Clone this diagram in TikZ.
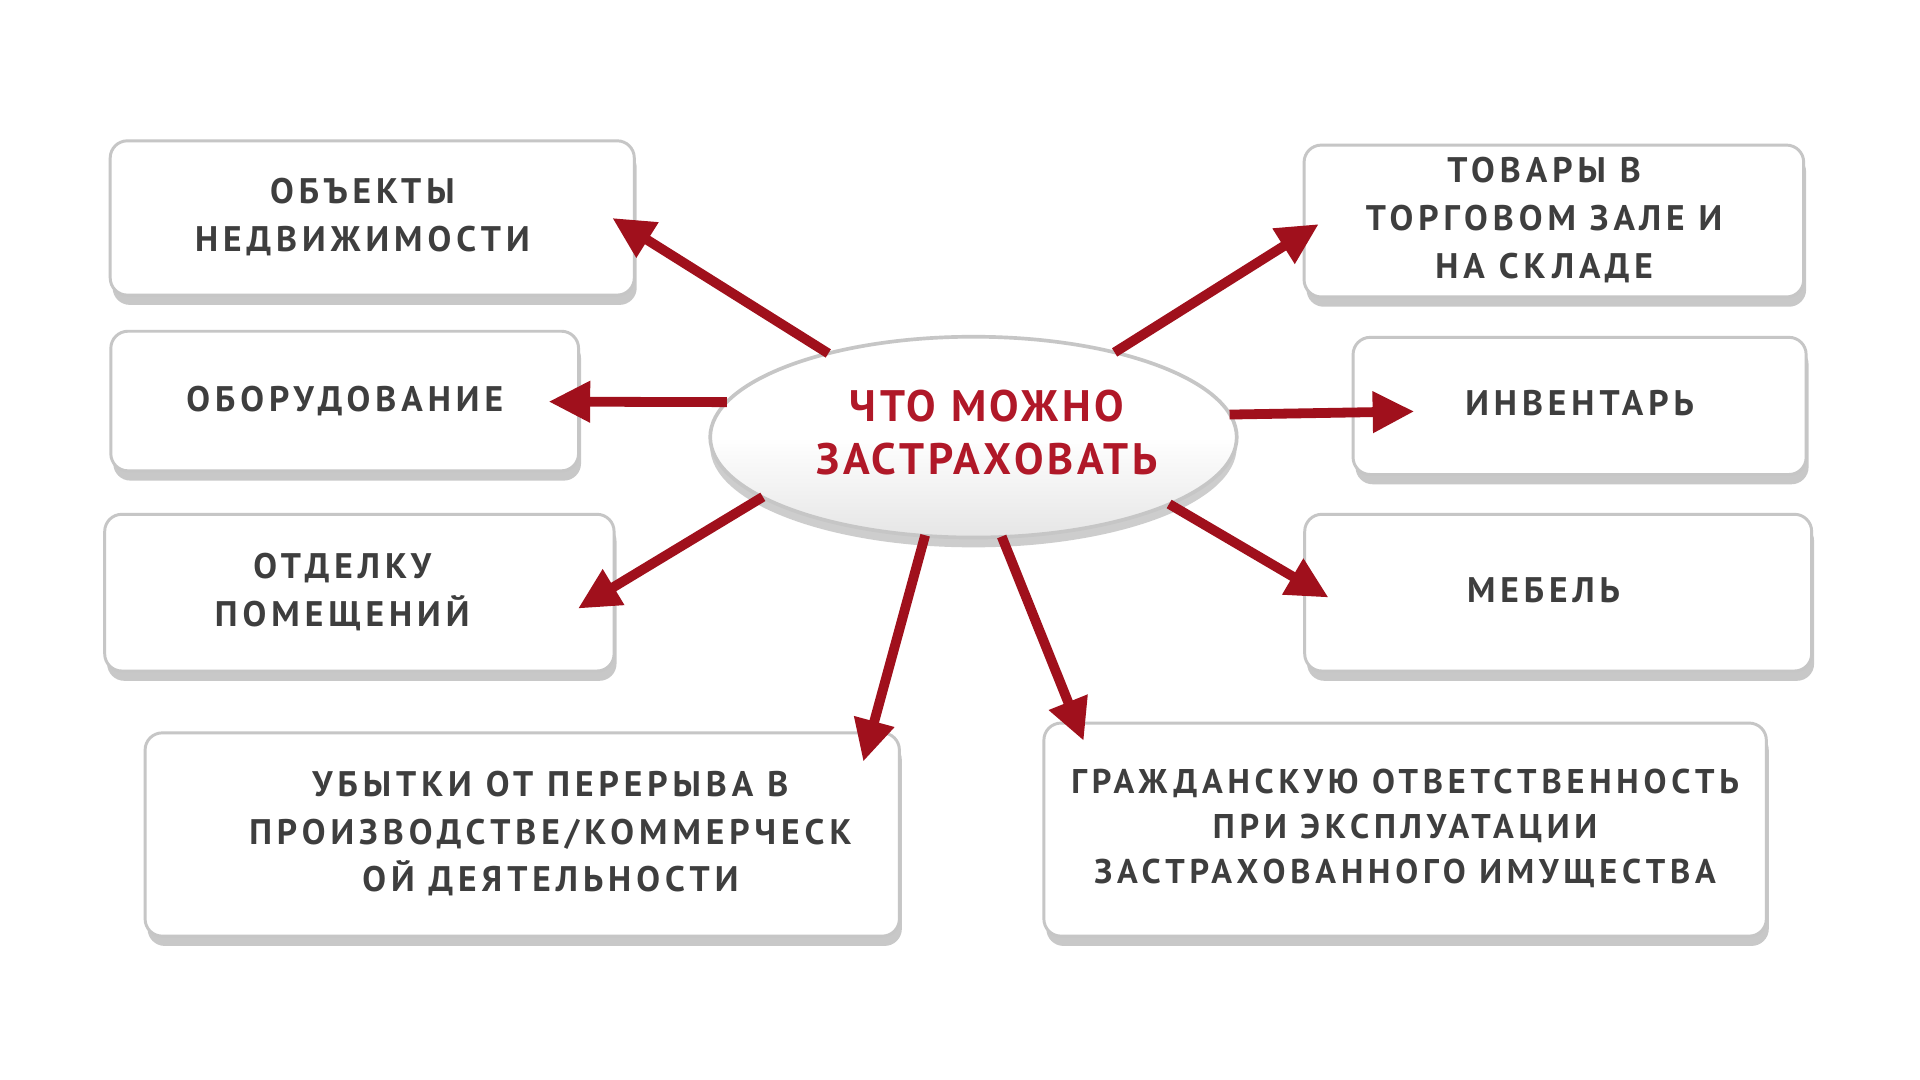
\documentclass[tikz,border=0pt]{standalone}
\usepackage{fontspec}
\setmainfont{PT Sans}
\newfontfamily\boxfont[LetterSpace=14]{PT Sans}
\newfontfamily\ctrfont[LetterSpace=8]{PT Sans}
\usetikzlibrary{shadows,arrows.meta,shapes.geometric}
\definecolor{arrred}{HTML}{A0101C}
\definecolor{txtgray}{HTML}{3E3E3E}
\definecolor{ctrred}{HTML}{B01828}
\newcommand{\rl}[3]{\hspace*{#1}\raisebox{#2}{\begin{tabular}{@{}c@{}}#3\end{tabular}}}
\tikzset{
  box/.style={draw=gray!45, line width=1.2pt, fill=white, rounded corners=7pt,
    drop shadow={shadow xshift=1pt, shadow yshift=-4pt, fill=gray!60, opacity=0.7},
    align=center, font=\boxfont\fontsize{14.5}{19.5}\selectfont\bfseries, text=txtgray, inner sep=0pt},
  ctr/.style={ellipse, draw=gray!45, line width=1.5pt, top color=white, bottom color=gray!20,
    middle color=white, minimum width=215pt, minimum height=82pt, inner sep=0pt,
    drop shadow={shadow xshift=0pt, shadow yshift=-4pt, fill=gray!55, opacity=0.7},
    align=center, font=\ctrfont\fontsize{18}{21.5}\selectfont\bfseries, text=ctrred},
  arr/.style={draw=arrred, line width=4pt, -{Triangle[length=17pt, width=16pt]}, shorten <=-1pt}
}
\begin{document}
\begin{tikzpicture}[x=0.5pt, y=-0.5pt]
\useasboundingbox (0,0) rectangle (1568,882);
\fill[white] (0,0) rectangle (1568,882);
\node[box, minimum width=214pt, minimum height=63pt] (b1) at (304,178) {\rl{-8pt}{3.5pt}{ОБЪЕКТЫ\\НЕДВИЖИМОСТИ}};
\node[box, minimum width=191pt, minimum height=57pt] (b2) at (281.5,327.5) {ОБОРУДОВАНИЕ};
\node[box, minimum width=208pt, minimum height=64pt] (b3) at (293.5,484) {\rl{-14pt}{2.5pt}{ОТДЕЛКУ\\ПОМЕЩЕНИЙ}};
\node[box, minimum width=308pt, minimum height=83pt] (b4) at (426.5,681.5) {\rl{23pt}{2pt}{УБЫТКИ ОТ ПЕРЕРЫВА В\\ПРОИЗВОДСТВЕ/КОММЕРЧЕСК\\ОЙ ДЕЯТЕЛЬНОСТИ}};
\node[box, minimum width=295pt, minimum height=87pt, font=\boxfont\fontsize{14}{18.5}\selectfont\bfseries] (b5) at (1147.5,677.5) {\rl{0pt}{1.5pt}{ГРАЖДАНСКУЮ ОТВЕТСТВЕННОСТЬ\\ПРИ ЭКСПЛУАТАЦИИ\\ЗАСТРАХОВАННОГО ИМУЩЕСТВА}};
\node[box, minimum width=204pt, minimum height=62pt] (b6) at (1269,180.5) {\rl{-8pt}{0pt}{ТОВАРЫ В\\ТОРГОВОМ ЗАЛЕ И\\НА СКЛАДЕ}};
\node[box, minimum width=185pt, minimum height=56pt] (b7) at (1290,331.5) {\rl{0pt}{2pt}{ИНВЕНТАРЬ}};
\node[box, minimum width=207pt, minimum height=64pt] (b8) at (1272.5,484) {\rl{-12pt}{4.5pt}{МЕБЕЛЬ}};
\node[ctr] (c) at (795,357) {\rl{11pt}{3pt}{ЧТО МОЖНО\\ЗАСТРАХОВАТЬ}};
\coordinate (t1) at (500,178);
\coordinate (t2) at (448,328);
\coordinate (t3) at (472,497);
\coordinate (t4) at (705,622);
\coordinate (t5) at (885,605);
\coordinate (t6) at (1077,183);
\coordinate (t7) at (1155,336);
\coordinate (t8) at (1085,488);
\draw[arr] (c.150) -- (t1);
\draw[arr] (c.172) -- (t2);
\draw[arr] (c.196) -- (t3);
\draw[arr] (c.244) -- (t4);
\draw[arr] (c.286) -- (t5);
\draw[arr] (c.31) -- (t6);
\draw[arr] (c.5) -- (t7);
\draw[arr] (c.341) -- (t8);
\end{tikzpicture}
\end{document}
